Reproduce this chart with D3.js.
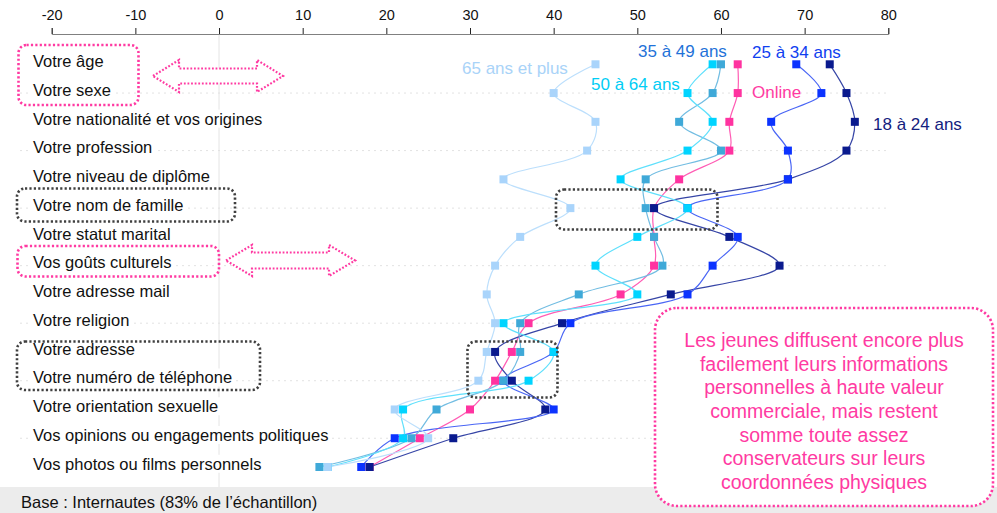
<!DOCTYPE html>
<html>
<head>
<meta charset="utf-8">
<script src="https://cdn.jsdelivr.net/npm/d3@7"></script>
<style>
  body { margin: 0; background: #fff; }
  svg text { font-family: "Liberation Sans", Arial, sans-serif; }
</style>
</head>
<body>
<div id="chart"></div>
<script>
/* Categories (top to bottom) */
var categories = [
    "Votre âge", "Votre sexe", "Votre nationalité et vos origines", "Votre profession",
    "Votre niveau de diplôme", "Votre nom de famille", "Votre statut marital",
    "Vos goûts culturels", "Votre adresse mail", "Votre religion", "Votre adresse",
    "Votre numéro de téléphone", "Votre orientation sexuelle",
    "Vos opinions ou engagements politiques", "Vos photos ou films personnels"
];

/* Series values */
var online   = [62, 62, 61, 61, 55, 52, 52, 52, 48, 37, 35, 33, 30, 24, 18];
var age18_24 = [73, 75, 76, 75, 68, 52, 61, 67, 54, 41, 33, 35, 39, 28, 18];
var age25_34 = [69, 72, 66, 68, 68, 56, 62, 59, 56, 42, 40, 34, 40, 21, 17];
var age35_49 = [60, 59, 55, 60, 51, 51, 52, 53, 43, 36, 36, 34, 26, 23, 12];
var age50_64 = [59, 56, 59, 56, 48, 56, 50, 45, 50, 34, 40, 37, 22, 22, 13];
var age65    = [45, 40, 45, 44, 34, 42, 36, 33, 32, 33, 32, 31, 21, 25, 13];

var seriesNames = ["Online", "18 à 24 ans", "25 à 34 ans", "35 à 49 ans", "50 à 64 ans", "65 ans et plus"];
var xTicks = [-20, -10, 0, 10, 20, 30, 40, 50, 60, 70, 80];

var width = 997, height = 513;

var series = [
    { name: seriesNames[0], values: online,   marker: "#ff33a0", line: "#ff5cb4", label: "#ff3aa2", lx: 752, ly: 92 },
    { name: seriesNames[1], values: age18_24, marker: "#0a1a8e", line: "#3645a6", label: "#14217e", lx: 873, ly: 124 },
    { name: seriesNames[2], values: age25_34, marker: "#0c33ff", line: "#4a66f5", label: "#1040f0", lx: 752, ly: 52 },
    { name: seriesNames[3], values: age35_49, marker: "#3fa9d8", line: "#72bde2", label: "#1f72d8", lx: 638, ly: 51 },
    { name: seriesNames[4], values: age50_64, marker: "#00d4ff", line: "#5fe0fc", label: "#00cdf5", lx: 591, ly: 84 },
    { name: seriesNames[5], values: age65,    marker: "#a9d4fb", line: "#bcdffc", label: "#a9d3f8", lx: 462, ly: 68 }
];

var svg = d3.select("#chart").append("svg")
    .attr("width", width)
    .attr("height", height);

var x = d3.scaleLinear().domain([-20, 80]).range([51.7, 888.3]);
var y = d3.scalePoint().domain(categories).range([64.3, 467]).padding(0);

/* bottom gray band */
svg.append("rect")
    .attr("x", 0).attr("y", 487)
    .attr("width", width).attr("height", height - 487)
    .attr("fill", "#ececec");

/* vertical line at 0 */
svg.append("line")
    .attr("x1", x(0)).attr("x2", x(0))
    .attr("y1", 34).attr("y2", 487)
    .attr("stroke", "#e4e4e4");

/* dotted gridlines every other row */
svg.append("g").selectAll("line")
    .data(categories.filter((d, i) => i % 2 === 1))
    .enter().append("line")
    .attr("x1", 20).attr("x2", x(80))
    .attr("y1", d => y(d)).attr("y2", d => y(d))
    .attr("stroke", "#e2e2e2")
    .attr("stroke-dasharray", "2,4");

/* top axis */
var axis = svg.append("g")
    .attr("transform", "translate(0,34)")
    .call(d3.axisTop(x).tickValues(xTicks).tickSize(6).tickPadding(8).tickFormat(d => String(d)));
axis.select(".domain").attr("stroke", "#808080");
axis.selectAll(".tick line").attr("stroke", "#222");
axis.selectAll(".tick text")
    .attr("font-size", "14.5px")
    .attr("fill", "#111")
    .attr("font-family", "Liberation Sans, Arial, sans-serif");

/* category labels with white backing */
var labels = svg.append("g");
categories.forEach(function(c) {
    var t = labels.append("text")
        .attr("x", 33)
        .attr("y", y(c) - 3)
        .attr("dy", "0.35em")
        .attr("font-size", "16.5px")
        .attr("fill", "#111")
        .text(c);
    var b = t.node().getBBox();
    labels.insert("rect", "text")
        .attr("x", b.x - 2).attr("y", b.y)
        .attr("width", b.width + 4).attr("height", b.height)
        .attr("fill", "#fff");
});

/* annotation boxes round labels */
function dotBox(x0, y0, x1, y1, color) {
    svg.append("rect")
        .attr("x", x0).attr("y", y0)
        .attr("width", x1 - x0).attr("height", y1 - y0)
        .attr("rx", 8).attr("ry", 8)
        .attr("fill", "none")
        .attr("stroke", color)
        .attr("stroke-width", 2.6)
        .attr("stroke-dasharray", "2.2,2.2");
}
dotBox(18.5, 45, 138.5, 105, "#ff3aa2");
dotBox(17, 188.5, 235, 221.5, "#404040");
dotBox(17.5, 246, 219, 276.5, "#ff3aa2");
dotBox(17, 341.5, 260, 390, "#404040");

/* double arrows */
function dblArrow(x0, x1, yc, hh, sh, hw) {
    var pts = [
        [x0, yc], [x0 + hw, yc - hh], [x0 + hw, yc - sh], [x1 - hw, yc - sh], [x1 - hw, yc - hh],
        [x1, yc], [x1 - hw, yc + hh], [x1 - hw, yc + sh], [x0 + hw, yc + sh], [x0 + hw, yc + hh]
    ];
    svg.append("path")
        .attr("d", "M" + pts.join("L") + "Z")
        .attr("fill", "#fff")
        .attr("stroke", "#ff3aa2")
        .attr("stroke-width", 2.2)
        .attr("stroke-dasharray", "1.8,1.8");
}
dblArrow(153, 283, 76, 16, 7.5, 26);
dblArrow(226, 355, 260.5, 15.5, 8, 26);

/* lines (smoothed) */
var line = d3.line()
    .x(d => x(d.v))
    .y(d => y(d.c))
    .curve(d3.curveCatmullRom.alpha(0.5));

svg.append("g").selectAll("path")
    .data(series)
    .enter().append("path")
    .attr("d", s => line(s.values.map((v, i) => ({ v: v, c: categories[i] }))))
    .attr("fill", "none")
    .attr("stroke", s => s.line)
    .attr("stroke-width", 1.2);

/* markers */
var ms = 8;
series.forEach(function(s) {
    svg.append("g").selectAll("rect")
        .data(s.values)
        .enter().append("rect")
        .attr("x", (v) => x(v) - ms / 2)
        .attr("y", (v, i) => y(categories[i]) - ms / 2)
        .attr("width", ms).attr("height", ms)
        .attr("fill", s.marker);
});

/* series labels */
svg.append("g").selectAll("text")
    .data(series)
    .enter().append("text")
    .attr("x", s => s.lx)
    .attr("y", s => s.ly)
    .attr("dy", "0.35em")
    .attr("font-size", "17px")
    .attr("fill", s => s.label)
    .text(s => s.name);

/* dotted boxes in data area */
dotBox(556, 189.5, 717.5, 229.5, "#404040");
dotBox(467.5, 341.5, 557.5, 397.5, "#404040");

/* comment box */
svg.append("rect")
    .attr("x", 655).attr("y", 308)
    .attr("width", 338).attr("height", 198)
    .attr("rx", 22).attr("ry", 22)
    .attr("fill", "#fff")
    .attr("stroke", "#ff3aa2")
    .attr("stroke-width", 2.6)
    .attr("stroke-dasharray", "2.2,2.2");

var comment = ["Les jeunes diffusent encore plus", "facilement leurs informations",
    "personnelles à haute valeur", "commerciale, mais restent", "somme toute assez",
    "conservateurs sur leurs", "coordonnées physiques"];
svg.append("g").selectAll("text")
    .data(comment)
    .enter().append("text")
    .attr("x", 824)
    .attr("y", (d, i) => 340 + i * 23.7)
    .attr("dy", "0.35em")
    .attr("text-anchor", "middle")
    .attr("font-size", "19.5px")
    .attr("fill", "#ff3aa2")
    .text(d => d);

/* base note */
svg.append("text")
    .attr("x", 21).attr("y", 502)
    .attr("dy", "0.35em")
    .attr("font-size", "16.5px")
    .attr("fill", "#111")
    .text("Base : Internautes (83% de l’échantillon)");
</script>
</body>
</html>
